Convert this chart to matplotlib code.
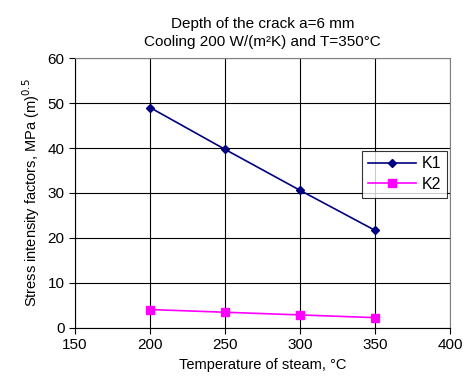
import matplotlib
matplotlib.use("Agg")
import matplotlib.pyplot as plt

plt.rcParams["font.family"] = ["Liberation Sans", "DejaVu Sans"]

temps = [200, 250, 300, 350]
k1 = [49.0, 39.7, 30.6, 21.7]
k2 = [4.1, 3.5, 2.9, 2.3]

fig = plt.figure(figsize=(4.67, 3.86), dpi=100)
ax = fig.add_axes([0.1606, 0.1503, 0.803, 0.6994])

ax.plot(temps, k1, color="#000080", marker="D", markersize=4, lw=1.2, label="K1")
ax.plot(temps, k2, color="#ff00ff", marker="s", markersize=6, lw=1.2, label="K2")

ax.set_xlim(150, 400)
ax.set_ylim(0, 60)
ax.set_xticks([150, 200, 250, 300, 350, 400])
ax.set_yticks([0, 10, 20, 30, 40, 50, 60])
ax.grid(True, color="black", lw=0.8)
ax.tick_params(direction="out", length=4, labelsize=11, color="black")
for s in ["top", "right"]:
    ax.spines[s].set_color("#808080")
for s in ["left", "bottom"]:
    ax.spines[s].set_color("black")

ax.set_xlabel("Temperature of steam, \u00b0C", fontsize=10.5)
ax.set_ylabel("Stress intensity factors, MPa (m)$^{0.5}$", fontsize=10.5)
ax.set_title("Depth of the crack a=6 mm\nCooling 200 W/(m\u00b2K) and T=350\u00b0C",
             fontsize=11, pad=9, linespacing=1.35)

leg = ax.legend(loc="upper right", bbox_to_anchor=(0.992, 0.656), fontsize=11.5,
                frameon=True, fancybox=False, edgecolor="black", borderpad=0.35,
                borderaxespad=0, handlelength=3.0, labelspacing=0.35,
                handletextpad=0.4)
leg.get_frame().set_linewidth(0.8)

fig.savefig("out.png", dpi=100)
